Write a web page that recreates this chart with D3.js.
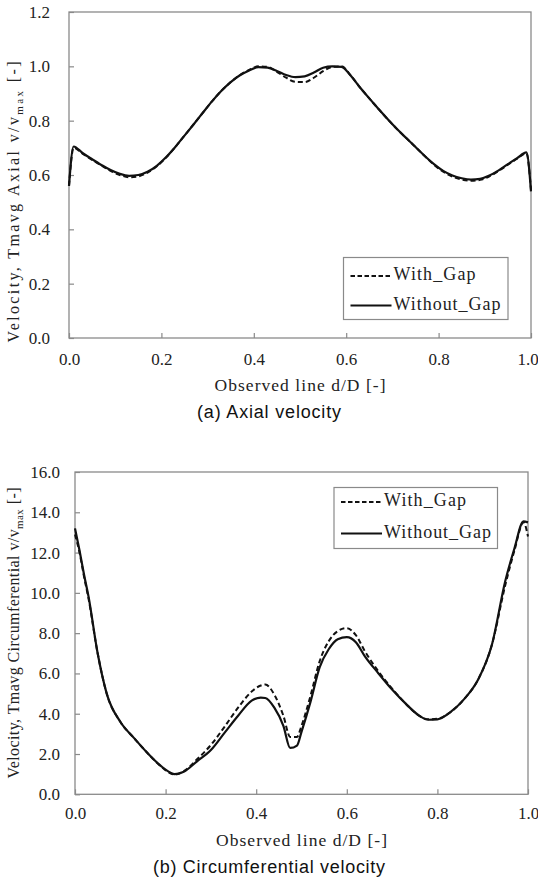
<!DOCTYPE html>
<html>
<head>
<meta charset="utf-8">
<script src="https://cdn.jsdelivr.net/npm/d3@7"></script>
<style>
  html, body { margin: 0; padding: 0; background: #fff; }
  svg { display: block; }
  .serif { font-family: "Liberation Serif", "Times New Roman", Times, serif; }
  .sans { font-family: "Liberation Sans", Arial, Helvetica, sans-serif; }
</style>
</head>
<body>
<svg id="chart" width="538" height="885"></svg>
<script>
// ---------- DATA ----------
const seriesNames = ["With_Gap", "Without_Gap"];
const xTicks = [0, 0.2, 0.4, 0.6, 0.8, 1.0];

// (a) Axial velocity
const axialYTicks = [0, 0.2, 0.4, 0.6, 0.8, 1.0, 1.2];
const axialD = [0, 0.01, 0.03, 0.05, 0.07, 0.09, 0.11, 0.13, 0.15, 0.17, 0.19, 0.21, 0.23, 0.25, 0.27, 0.29,
  0.31, 0.33, 0.35, 0.37, 0.39, 0.41, 0.43, 0.45, 0.47, 0.49, 0.51, 0.53, 0.55, 0.57, 0.59, 0.61, 0.63, 0.65,
  0.67, 0.69, 0.71, 0.73, 0.75, 0.77, 0.79, 0.81, 0.83, 0.85, 0.87, 0.89, 0.91, 0.93, 0.95, 0.97, 0.99, 1.0];
const axialWithoutGap = [0.56, 0.705, 0.68, 0.658, 0.637, 0.618, 0.604, 0.597, 0.600, 0.612, 0.634, 0.665, 0.703,
  0.745, 0.787, 0.830, 0.872, 0.910, 0.942, 0.967, 0.985, 0.997, 0.995, 0.983, 0.968, 0.960, 0.963, 0.977, 0.995,
  1.0, 0.998, 0.965, 0.922, 0.882, 0.843, 0.805, 0.769, 0.736, 0.703, 0.670, 0.640, 0.615, 0.598, 0.588, 0.583,
  0.586, 0.598, 0.617, 0.640, 0.662, 0.683, 0.54];
const axialWithGap = [0.56, 0.700, 0.678, 0.656, 0.635, 0.615, 0.600, 0.592, 0.595, 0.609, 0.632, 0.664, 0.703,
  0.745, 0.787, 0.830, 0.872, 0.910, 0.942, 0.968, 0.987, 1.0, 0.998, 0.980, 0.958, 0.943, 0.942, 0.958, 0.982,
  0.998, 1.0, 0.966, 0.922, 0.882, 0.843, 0.805, 0.769, 0.736, 0.703, 0.670, 0.638, 0.612, 0.594, 0.583, 0.579,
  0.582, 0.595, 0.615, 0.638, 0.660, 0.680, 0.545];

// (b) Circumferential velocity
const circYTicks = [0, 2, 4, 6, 8, 10, 12, 14, 16];
const circD = [0, 0.01, 0.02, 0.03, 0.05, 0.07, 0.1, 0.13, 0.16, 0.19, 0.21, 0.22, 0.24, 0.27, 0.3, 0.33, 0.36,
  0.39, 0.41, 0.42, 0.44, 0.46, 0.475, 0.49, 0.5, 0.52, 0.54, 0.56, 0.58, 0.6, 0.62, 0.64, 0.67, 0.7, 0.73, 0.76,
  0.78, 0.8, 0.83, 0.86, 0.89, 0.92, 0.95, 0.97, 0.99, 1.0];
const circWithoutGap = [13.2, 12.1, 10.9, 9.8, 7.0, 5.0, 3.6, 2.8, 2.05, 1.4, 1.08, 1.0, 1.12, 1.65, 2.2, 3.05, 3.9,
  4.65, 4.8, 4.78, 4.3, 3.4, 2.3, 2.42, 3.1, 4.6, 6.3, 7.2, 7.7, 7.8, 7.55, 6.85, 6.0, 5.2, 4.5, 3.9,
  3.7, 3.72, 4.1, 4.75, 5.7, 7.4, 10.6, 12.2, 13.55, 13.5];
const circWithGap = [12.9, 12.0, 10.8, 9.7, 7.0, 5.0, 3.6, 2.8, 2.05, 1.38, 1.05, 0.98, 1.15, 1.75, 2.45, 3.35, 4.3,
  5.1, 5.4, 5.45, 4.95, 3.9, 2.85, 2.85, 3.4, 4.9, 6.6, 7.6, 8.1, 8.25, 7.9, 7.1, 6.1, 5.25, 4.5, 3.9,
  3.72, 3.75, 4.1, 4.75, 5.7, 7.4, 10.4, 12.1, 13.5, 12.8];

// ---------- DRAW ----------
const svg = d3.select("#chart");

function drawPanel(p) {
  const x = d3.scaleLinear().domain([0, 1]).range([p.left, p.right]);
  const y = d3.scaleLinear().domain([0, p.yMax]).range([p.bottom, p.top]);
  const g = svg.append("g");

  // frame
  g.append("rect")
    .attr("x", p.left).attr("y", p.top)
    .attr("width", p.right - p.left).attr("height", p.bottom - p.top)
    .attr("fill", "none").attr("stroke", "#8a8a8a").attr("stroke-width", 1.3);

  // x axis (inward ticks)
  const xa = g.append("g").attr("transform", `translate(0,${p.bottom})`)
    .call(d3.axisBottom(x).tickValues(xTicks).tickFormat(d3.format(".1f"))
      .tickSizeInner(-5).tickSizeOuter(0).tickPadding(p.xPad));
  xa.attr("font-family", null).attr("font-size", null);
  xa.select(".domain").remove();
  xa.selectAll("line").attr("stroke", "#8a8a8a").attr("stroke-width", 1.2);
  xa.selectAll("text").attr("class", "serif").style("font-size", "17px").attr("fill", "#222")
    .attr("dx", d => d === 1 ? p.lastDx : 0);

  // y axis (inward ticks)
  const ya = g.append("g").attr("transform", `translate(${p.left},0)`)
    .call(d3.axisLeft(y).tickValues(p.yTicks).tickFormat(d3.format(".1f"))
      .tickSizeInner(-5).tickSizeOuter(0).tickPadding(p.yPad));
  ya.attr("font-family", null).attr("font-size", null);
  ya.select(".domain").remove();
  ya.selectAll("line").attr("stroke", "#8a8a8a").attr("stroke-width", 1.2);
  ya.selectAll("text").attr("class", "serif").style("font-size", "17px").attr("fill", "#222");

  // lines
  const line = d3.line().x(d => x(d[0])).y(d => y(d[1])).curve(d3.curveMonotoneX);
  const dataWith = p.d.map((d, i) => [d, p.withGap[i]]);
  const dataWithout = p.d.map((d, i) => [d, p.withoutGap[i]]);
  g.append("path").datum(dataWith).attr("d", line)
    .attr("fill", "none").attr("stroke", "#111").attr("stroke-width", 2)
    .attr("stroke-dasharray", "5,3");
  g.append("path").datum(dataWithout).attr("d", line)
    .attr("fill", "none").attr("stroke", "#111").attr("stroke-width", 2.2);

  // legend
  const L = p.legend;
  g.append("rect").attr("x", L.x).attr("y", L.y).attr("width", L.w).attr("height", L.h)
    .attr("fill", "#fff").attr("stroke", "#8a8a8a").attr("stroke-width", 1.2);
  seriesNames.forEach((name, i) => {
    const ly = L.y + L.rowY[i];
    g.append("line").attr("x1", L.x + 7).attr("x2", L.x + 48).attr("y1", ly).attr("y2", ly)
      .attr("stroke", "#111").attr("stroke-width", 2)
      .attr("stroke-dasharray", i === 0 ? "4.5,2.5" : null);
    g.append("text").attr("x", L.x + 50).attr("y", ly + 4)
      .attr("class", "serif").style("font-size", "18px").attr("fill", "#222")
      .attr("textLength", L.textLen[i]).attr("lengthAdjust", "spacing")
      .text(name);
  });

  // x title
  g.append("text").attr("x", (p.left + p.right) / 2).attr("y", p.xTitleY)
    .attr("text-anchor", "middle").attr("class", "serif").style("font-size", "17.5px").attr("fill", "#222")
    .attr("textLength", 171).attr("lengthAdjust", "spacing")
    .text("Observed line d/D [-]");

  // y title (rotated)
  const yt = g.append("text")
    .attr("transform", `translate(${p.yTitleX},${p.yTitleCY}) rotate(-90)`)
    .attr("text-anchor", "middle").attr("class", "serif").style("font-size", "16px").attr("fill", "#222")
    .attr("textLength", p.yTitleLen).attr("lengthAdjust", "spacing");
  yt.append("tspan").text(p.yTitle + " v/v");
  yt.append("tspan").style("font-size", "11px").attr("dy", 4).text("max");
  yt.append("tspan").attr("dy", -4).text(" [-]");

  // subtitle
  svg.append("text").attr("x", 269).attr("y", p.subY)
    .attr("text-anchor", "middle").attr("class", "sans").style("font-size", "18px").attr("fill", "#111")
    .attr("textLength", p.subLen).attr("lengthAdjust", "spacing")
    .text(p.sub);
}

drawPanel({
  left: 69, right: 531, top: 12, bottom: 338, yMax: 1.2, yTicks: axialYTicks,
  xPad: 15, yPad: 19, lastDx: -3.5,
  d: axialD, withGap: axialWithGap, withoutGap: axialWithoutGap,
  legend: { x: 343.5, y: 257.5, w: 164.5, h: 62, rowY: [18.5, 48], textLen: [82, 107] },
  xTitleY: 391, yTitleX: 19, yTitleCY: 202, yTitleLen: 281,
  yTitle: "Velocity, Tmavg Axial",
  sub: "(a) Axial velocity", subY: 418, subLen: 144
});

drawPanel({
  left: 75, right: 528, top: 472, bottom: 794.3, yMax: 16, yTicks: circYTicks,
  xPad: 13, yPad: 15, lastDx: 0,
  d: circD, withGap: circWithGap, withoutGap: circWithoutGap,
  legend: { x: 334, y: 487.5, w: 163.5, h: 61, rowY: [14.5, 46], textLen: [82, 107] },
  xTitleY: 846, yTitleX: 19, yTitleCY: 633, yTitleLen: 291,
  yTitle: "Velocity, Tmavg Circumferential",
  sub: "(b) Circumferential velocity", subY: 873, subLen: 232
});
</script>
</body>
</html>
